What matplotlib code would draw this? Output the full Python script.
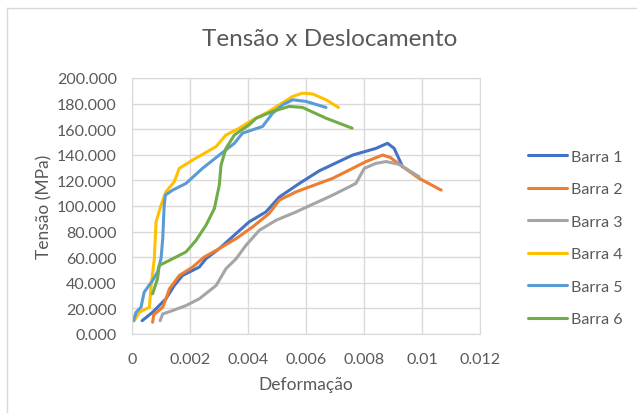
import matplotlib
matplotlib.use('Agg')
from matplotlib import pyplot as plt
from matplotlib.ticker import FuncFormatter, MultipleLocator

# dados (deformação, tensão em MPa)
barra1_x = [0.00035, 0.00071, 0.00117, 0.00146, 0.00174, 0.00232, 0.00255, 0.00301, 0.00404,
            0.00462, 0.00508, 0.00577, 0.00646, 0.00761, 0.00841, 0.00881, 0.00904, 0.00933]
barra1_y = [10.4, 17.0, 27.5, 37.9, 45.7, 52.3, 58.8, 66.7, 87.6,
            95.4, 107.0, 117.6, 127.5, 139.8, 145.0, 149.0, 145.0, 130.7]

barra2_x = [0.00071, 0.00075, 0.00106, 0.00117, 0.00129, 0.00163, 0.00209, 0.00249, 0.0029,
            0.00359, 0.00416, 0.00473, 0.00508, 0.00566, 0.00692, 0.00807, 0.00864, 0.0089,
            0.00933, 0.0099, 0.01066]
barra2_y = [9.2, 15.0, 20.9, 27.5, 35.3, 45.7, 52.3, 60.1, 65.3,
            74.5, 83.7, 94.1, 104.6, 111.1, 121.6, 134.7, 139.8, 138.0,
            130.7, 121.6, 112.4]

barra3_x = [0.00097, 0.00106, 0.0014, 0.00186, 0.00232, 0.0029, 0.00324, 0.00359, 0.00393,
            0.00439, 0.00497, 0.00566, 0.00692, 0.00772, 0.00801, 0.00841, 0.00876, 0.00922,
            0.0099]
barra3_y = [10.4, 15.7, 18.3, 22.2, 27.5, 37.9, 51.0, 58.8, 69.3,
            81.0, 88.9, 95.4, 108.5, 117.6, 129.4, 133.3, 134.7, 132.5,
            122.9]

barra4_x = [0.00008, 0.00025, 0.0006, 0.00066, 0.00077, 0.00083, 0.001, 0.00117, 0.00146,
            0.00163, 0.00209, 0.0029, 0.00324, 0.0037, 0.00416, 0.00462, 0.00508, 0.00554,
            0.00588, 0.00623, 0.00669, 0.00712]
barra4_y = [10.4, 17.0, 20.9, 37.9, 58.8, 87.6, 100.6, 111.1, 119.0,
            129.4, 135.9, 146.4, 155.5, 160.8, 167.3, 172.5, 179.0, 185.6,
            188.2, 187.5, 183.0, 177.0]

barra5_x = [0.00005, 0.00014, 0.00031, 0.00042, 0.00071, 0.00088, 0.001, 0.00106, 0.00111,
            0.00115, 0.0014, 0.00186, 0.00243, 0.00301, 0.00353, 0.00381, 0.0045, 0.00485,
            0.00519, 0.00554, 0.00600, 0.00669]
barra5_y = [10.4, 17.0, 20.9, 32.7, 41.8, 48.4, 58.8, 74.5, 100.6,
            108.5, 112.4, 117.6, 129.4, 139.8, 149.0, 156.9, 162.1, 172.5,
            179.0, 183.0, 181.7, 177.0]

barra6_x = [0.00071, 0.00088, 0.00094, 0.00129, 0.00186, 0.00221, 0.00255, 0.00284, 0.00301,
            0.00307, 0.00324, 0.00353, 0.00404, 0.00428, 0.00485, 0.00542, 0.00588, 0.00669,
            0.00759]
barra6_y = [31.4, 43.1, 53.6, 57.5, 64.1, 73.2, 84.9, 98.0, 116.3,
            132.0, 145.0, 155.5, 163.4, 168.6, 173.9, 177.8, 177.0, 168.6,
            160.8]

series = [
    ("Barra 1", barra1_x, barra1_y, "#4472C4"),
    ("Barra 2", barra2_x, barra2_y, "#ED7D31"),
    ("Barra 3", barra3_x, barra3_y, "#A5A5A5"),
    ("Barra 4", barra4_x, barra4_y, "#FFC000"),
    ("Barra 5", barra5_x, barra5_y, "#5B9BD5"),
    ("Barra 6", barra6_x, barra6_y, "#70AD47"),
]

plt.rcParams['font.family'] = ['Lato', 'DejaVu Sans']
texto = "#595959"
grade = "#D9D9D9"

fig = plt.figure(figsize=(6.37, 4.14), dpi=100)
ax = fig.add_axes([132 / 637, 1 - 335 / 414, (480 - 132) / 637, (335 - 79) / 414])

for nome, xs, ys, cor in series:
    ax.plot(xs, ys, color=cor, linewidth=2.2, label=nome, solid_capstyle='round',
            solid_joinstyle='round')

ax.set_xlim(0, 0.012)
ax.set_ylim(0, 200)
ax.xaxis.set_major_locator(MultipleLocator(0.002))
ax.yaxis.set_major_locator(MultipleLocator(20))
ax.xaxis.set_major_formatter(FuncFormatter(lambda v, p: "%g" % round(v, 6)))
ax.yaxis.set_major_formatter(FuncFormatter(lambda v, p: "%.3f" % v))
ax.grid(True, color=grade, linewidth=1)
ax.set_axisbelow(True)
for s in ax.spines.values():
    s.set_color(grade)
ax.tick_params(length=0, colors=texto, labelsize=11.5, pad=13)
ax.tick_params(axis='y', pad=11)

ax.set_xlabel("Deformação", color=texto, fontsize=12.5)
ax.set_ylabel("Tensão (MPa)", color=texto, fontsize=12.5)
ax.xaxis.set_label_coords(0.5, -(385 - 335) / 256, transform=ax.transAxes)
ax.yaxis.set_label_coords(-(132 - 44) / 348, 0.5, transform=ax.transAxes)
ax.xaxis.label.set_va('center')
ax.yaxis.label.set_va('center')
fig.text(330 / 637, 1 - 40 / 414, "Tensão x Deslocamento", color=texto, fontsize=17.5,
         ha='center', va='center')

leg = fig.legend(loc='center left', bbox_to_anchor=(528 / 637, 1 - 239 / 414), frameon=False,
                 fontsize=11.5, labelspacing=1.15, handlelength=2.45, handletextpad=0.25,
                 borderpad=0, borderaxespad=0)
for t in leg.get_texts():
    t.set_color(texto)

# borda da área do gráfico
fig.add_artist(plt.Line2D([7 / 637, 7 / 637], [0, 1 - 9 / 414], color=grade, linewidth=1,
                          transform=fig.transFigure))
fig.add_artist(plt.Line2D([7 / 637, 1], [1 - 9 / 414, 1 - 9 / 414], color=grade, linewidth=1,
                          transform=fig.transFigure))

plt.savefig('out.png', dpi=100)
